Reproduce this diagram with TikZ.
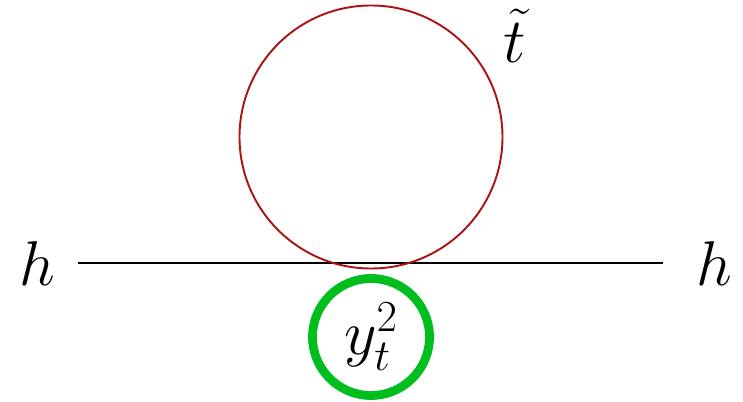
\documentclass[tikz,border=0pt]{standalone}
\usepackage{fix-cm}
\definecolor{stopred}{RGB}{170,20,20}
\definecolor{loopgreen}{RGB}{0,190,30}
\begin{document}
\begin{tikzpicture}[every node/.style={font=\fontsize{36pt}{40pt}\selectfont}]
    \useasboundingbox (0,0) rectangle (14.86,8.02);

    \coordinate (hl) at (1.56, 2.76);
    \coordinate (hr) at (13.26, 2.76);
    \node (h1) at (0.74, 2.74) {$h$};
    \node (h2) at (14.28, 2.74) {$h$};

    \draw[line width=1.1pt] (hl) -- (hr);

    \coordinate (stop) at (7.42, 5.28);
    \draw[stopred, line width=1.1pt] (stop) circle (2.63);
    \node (tlabel) at (10.3, 7.3) {$\tilde{t}$};

    \node[circle, draw=loopgreen, line width=5pt, minimum size=2.34cm, inner sep=0pt] (yuk) at (7.42, 1.28) {$y_t^2$};
\end{tikzpicture}
\end{document}
